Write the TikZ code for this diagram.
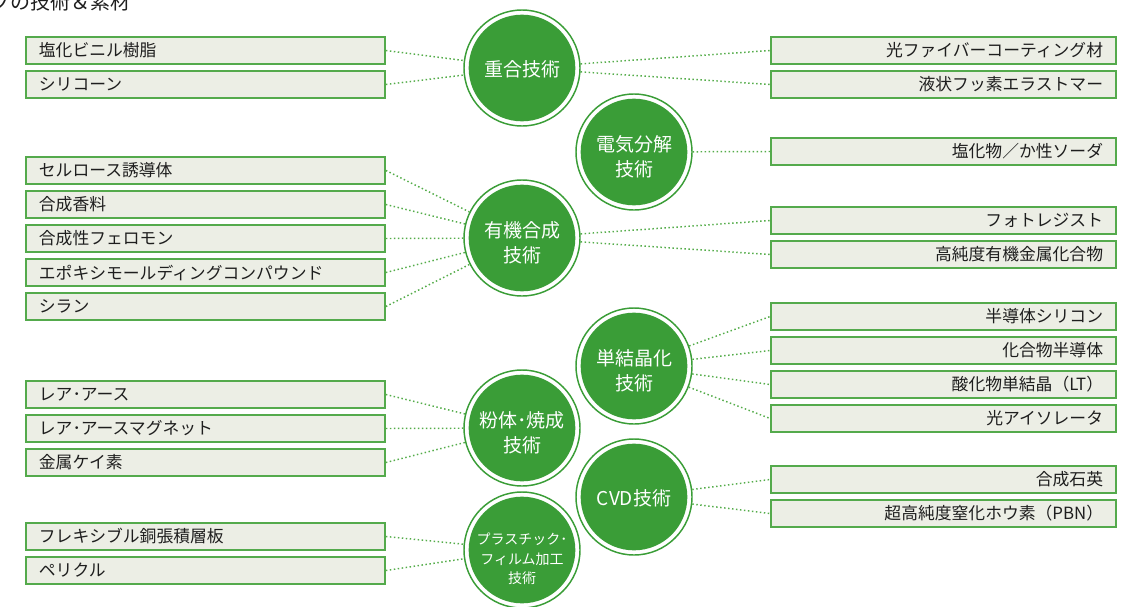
\documentclass[tikz,border=0pt]{standalone}
\usepackage{fontspec}
\setmainfont{Noto Sans CJK JP}
\definecolor{cg}{RGB}{58,157,55}
\definecolor{bb}{RGB}{84,170,76}
\definecolor{bf}{RGB}{236,238,229}
\definecolor{dg}{RGB}{84,172,74}
\definecolor{tx}{RGB}{30,30,30}
\begin{document}
\begin{tikzpicture}[x=0.75pt,y=-0.75pt,
  lbox/.style={draw=bb,fill=bf,line width=1.4pt,minimum height=20.25pt,text width=249.75pt,inner xsep=9.75pt,inner ysep=0pt,align=left,anchor=west,text=tx,font=\fontsize{12.6pt}{14pt}\selectfont},
  rbox/.style={draw=bb,fill=bf,line width=1.4pt,minimum height=20.25pt,text width=239.25pt,inner xsep=9.75pt,inner ysep=0pt,align=right,anchor=east,text=tx,font=\fontsize{12.6pt}{14pt}\selectfont},
  tech/.style={circle,draw=cg,line width=1.1pt,fill=white,minimum size=87pt,inner sep=0pt,
    path picture={\fill[cg] (path picture bounding box.center) circle[radius=40pt];}},
  ttext/.style={text=white,align=center,inner sep=0pt,font=\fontsize{14.25pt}{18.75pt}\selectfont},
  stext/.style={text=white,align=center,inner sep=0pt,font=\fontsize{10.5pt}{14.6pt}\selectfont},
  link/.style={draw=dg,line width=1.1pt,dash pattern=on 1.1pt off 1.9pt}
]
\useasboundingbox (0,0) rectangle (1129,607);
\clip (0,0) rectangle (1129,607);

\node[anchor=base west,inner sep=0pt,text=tx,font=\fontsize{15pt}{18pt}\selectfont] (title) at (-10,9) {プの技術＆素材};

% technology circles
\node[tech] (c1) at (522,68) {};
\node[ttext] (t1) at (522,69) {重合技術};
\node[tech] (c2) at (634,152) {};
\node[ttext] (t2) at (634,157) {電気分解\\技術};
\node[tech] (c3) at (522,238) {};
\node[ttext] (t3) at (522,243) {有機合成\\技術};
\node[tech] (c4) at (634,366) {};
\node[ttext] (t4) at (634,371) {単結晶化\\技術};
\node[tech] (c5) at (522,428) {};
\node[ttext] (t5) at (522,433) {粉体･焼成\\技術};
\node[tech] (c6) at (634,497) {};
\node[ttext] (t6) at (634,498) {CVD技術};
\node[tech] (c7) at (522,550) {};
\node[stext] (t7) at (522,559) {プラスチック･\\フィルム加工\\技術};

% left boxes
\node[lbox] (l1) at (25,50.5) {塩化ビニル樹脂};
\node[lbox] (l2) at (25,84.5) {シリコーン};
\node[lbox] (l3) at (25,170.5) {セルロース誘導体};
\node[lbox] (l4) at (25,204.5) {合成香料};
\node[lbox] (l5) at (25,238.5) {合成性フェロモン};
\node[lbox] (l6) at (25,272.5) {エポキシモールディングコンパウンド};
\node[lbox] (l7) at (25,306.5) {シラン};
\node[lbox] (l8) at (25,394.5) {レア･アース};
\node[lbox] (l9) at (25,428.5) {レア･アースマグネット};
\node[lbox] (l10) at (25,462.5) {金属ケイ素};
\node[lbox] (l11) at (25,536.5) {フレキシブル銅張積層板};
\node[lbox] (l12) at (25,570.5) {ペリクル};

% right boxes
\node[rbox] (r1) at (1117,50.5) {光ファイバーコーティング材};
\node[rbox] (r2) at (1117,84.5) {液状フッ素エラストマー};
\node[rbox] (r3) at (1117,151.5) {塩化物／か性ソーダ};
\node[rbox] (r4) at (1117,220.5) {フォトレジスト};
\node[rbox] (r5) at (1117,254.5) {高純度有機金属化合物};
\node[rbox] (r6) at (1117,316.5) {半導体シリコン};
\node[rbox] (r7) at (1117,350.5) {化合物半導体};
\node[rbox] (r8) at (1117,384.5) {酸化物単結晶（LT）};
\node[rbox] (r9) at (1117,418.5) {光アイソレータ};
\node[rbox] (r10) at (1117,479.5) {合成石英};
\node[rbox] (r11) at (1117,513.5) {超高純度窒化ホウ素（PBN）};

% links
\foreach \b in {l1,l2} \draw[link] (\b.east) -- (c1);
\foreach \b in {l3,l4,l5,l6,l7} \draw[link] (\b.east) -- (c3);
\foreach \b in {l8,l9,l10} \draw[link] (\b.east) -- (c5);
\foreach \b in {l11,l12} \draw[link] (\b.east) -- (c7);
\foreach \b in {r1,r2} \draw[link] (c1) -- (\b.west);
\draw[link] (c2) -- (r3.west);
\foreach \b in {r4,r5} \draw[link] (c3) -- (\b.west);
\foreach \b in {r6,r7,r8,r9} \draw[link] (c4) -- (\b.west);
\foreach \b in {r10,r11} \draw[link] (c6) -- (\b.west);
\end{tikzpicture}
\end{document}
